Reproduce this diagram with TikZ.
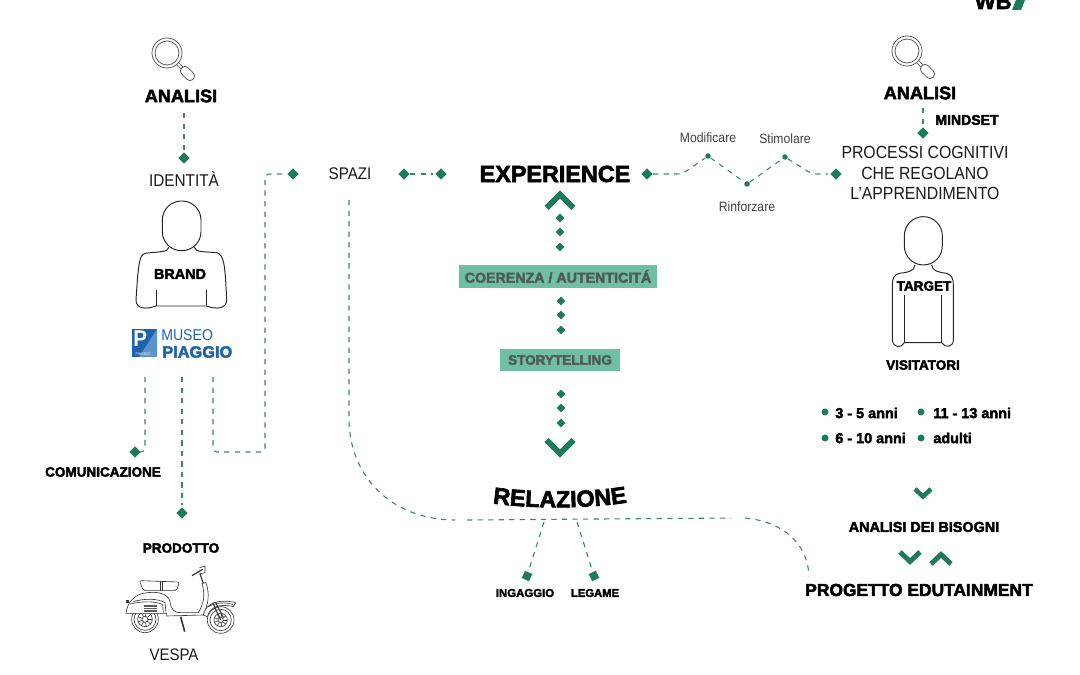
\documentclass[tikz,border=0pt]{standalone}
\usepackage{fontspec}
\setmainfont[FakeStretch=.9]{Liberation Sans}
\newfontfamily\hvfont[BoldFeatures={FakeBold=2.6}]{Liberation Sans}
\usetikzlibrary{positioning,calc,shapes.geometric,decorations.text}

\definecolor{wbgreen}{HTML}{1F7A5C}
\definecolor{linkgreen}{HTML}{3C8570}
\definecolor{boxgreen}{HTML}{6FBFA3}
\definecolor{boxtext}{HTML}{4F5A56}
\definecolor{logoblue}{HTML}{1F62AC}
\definecolor{logolight}{HTML}{5C93CC}

\tikzset{
  heavy/.style={font=\hvfont\bfseries\fontsize{#1}{#1}\selectfont,inner sep=0pt,text=black},
  plain/.style={font=\fontsize{#1}{#1}\selectfont,inner sep=0pt,text=black!90},
  tiny label/.style={font=\fontsize{7.7}{7.7}\selectfont,inner sep=0pt,text=black!75},
  gem/.style={diamond,fill=wbgreen,inner sep=0pt,minimum size=11.5*0.02cm},
  small gem/.style={diamond,fill=wbgreen,inner sep=0pt,minimum size=9*0.02cm},
  dot/.style={circle,fill=wbgreen,inner sep=0pt,minimum size=5.5*0.02cm},
  bullet/.style={circle,fill=wbgreen,inner sep=0pt,minimum size=7*0.02cm},
  band/.style={fill=boxgreen,inner sep=0pt,text=boxtext,font=\hvfont\bfseries\fontsize{#1}{#1}\selectfont},
  figure line/.style={draw=black!85,line width=0.55pt,fill=none},
  glass/.pic={
    \draw[black!65,line width=0.45pt] (0,0) circle[radius=15] (0,0) circle[radius=12];
    \begin{scope}[rotate=-45]
      \draw[black!65,line width=0.45pt] (15,-1.5) -- (21,-1.5) (15,1.5) -- (21,1.5);
      \draw[black!65,line width=0.45pt,rounded corners=0.08cm] (21,-4.5) rectangle (37,4.5);
    \end{scope}
  },
  chevron big/.pic={\draw[wbgreen,line width=3.3pt] (-13.5,7) -- (0,-6.5) -- (13.5,7);},
  chevron mid/.pic={\draw[wbgreen,line width=2.8pt] (-10,5) -- (0,-4.5) -- (10,5);},
  chevron low/.pic={\draw[wbgreen,line width=2.6pt] (-8,4) -- (0,-3.5) -- (8,4);},
}

\begin{document}
\begin{tikzpicture}[x=0.02cm,y=-0.02cm]
  \useasboundingbox (0,0) rectangle (1080,675);

  \node[heavy=12.6,anchor=base east]   (wb)      at (1012,9)   {WB};
  \fill[wbgreen] (1016,0) -- (1025,0) -- (1021,10) -- (1012,10) -- cycle;

  \pic at (167,53) {glass};
  \pic at (907,51) {glass};

  \node[heavy=10.3]      (analisiL)  at (181,96)   {ANALISI};
  \node[gem]             (gemId)     at (184,158)  {};
  \node[plain=9.7]       (identita)  at (184,179)  {IDENTITÀ};
  \node[heavy=8.2]       (brand)     at (180,274)  {BRAND};
  \node[gem]             (gemCom)    at (135,452)  {};
  \node[heavy=7.7]       (comun)     at (103,472)  {COMUNICAZIONE};
  \node[gem]             (gemProd)   at (182,513)  {};
  \node[heavy=7.7]       (prodotto)  at (181,548)  {PRODOTTO};
  \node[plain=9.5]       (vespa)     at (174,655)  {VESPA};

  \node[gem]             (gemSpL)    at (293,174)  {};
  \node[plain=9.6]       (spazi)     at (350,174)  {SPAZI};
  \node[gem]             (gemSpR)    at (404,174)  {};
  \node[gem]             (gemExpL)   at (441,174)  {};
  \node[heavy=13.3]      (experience) at (555,174) {EXPERIENCE};
  \node[gem]             (gemExpR)   at (647,174)  {};

  \node[dot]             (dotMod)    at (708,156)  {};
  \node[dot]             (dotRin)    at (747,184)  {};
  \node[dot]             (dotSti)    at (785,157)  {};
  \node[gem]             (gemProc)   at (836,174)  {};
  \node[tiny label]      (modificare) [above=0.2cm of dotMod] {Modificare};
  \node[tiny label]      (stimolare) [above=0.2cm of dotSti] {Stimolare};
  \node[tiny label]      (rinforzare) [below=0.28cm of dotRin] {Rinforzare};

  \node[heavy=10.3]      (analisiR)  at (920,93)   {ANALISI};
  \node[heavy=8]         (mindset)   at (967,120)  {MINDSET};
  \node[gem]             (gemMind)   at (923,133)  {};
  \node[font=\fontsize{10}{11.7}\selectfont,inner sep=0pt,align=center,text=black!90]
                         (processi)  at (925,173)  {PROCESSI COGNITIVI\\CHE REGOLANO\\L’APPRENDIMENTO};

  \node[heavy=7.7]       (target)    at (924,286)  {TARGET};
  \node[heavy=7.7]       (visitatori) at (923,365) {VISITATORI};
  \node[bullet]          (dotA)      at (825,412)  {};
  \node[bullet]          (dotB)      at (921,412)  {};
  \node[bullet]          (dotC)      at (825,438)  {};
  \node[bullet]          (dotD)      at (921,438)  {};
  \node[heavy=8.2,anchor=west] (etaA) at (835,413) {3 - 5 anni};
  \node[heavy=8.2,anchor=west] (etaB) at (933,413) {11 - 13 anni};
  \node[heavy=8.2,anchor=west] (etaC) at (835,438) {6 - 10 anni};
  \node[heavy=8.2,anchor=west] (etaD) at (933,438) {adulti};
  \node[heavy=8.2]       (bisogni)   at (924,527)  {ANALISI DEI BISOGNI};
  \node[heavy=9.9]       (progetto)  at (919,590)  {PROGETTO EDUTAINMENT};

  \node[band=8.1,minimum width=198*0.02cm,minimum height=23*0.02cm] (coerenza) at (558,276.5) {COERENZA / AUTENTICITÁ};
  \node[band=7.7,minimum width=120*0.02cm,minimum height=22*0.02cm] (story)    at (560,360)   {STORYTELLING};
  \foreach \y/\n in {218/a,232/b,247/c} \node[small gem] (up\n) at (560,\y) {};
  \foreach \y/\n in {301/a,315/b,330/c} \node[small gem] (mid\n) at (561,\y) {};
  \foreach \y/\n in {394/a,408/b,423/c} \node[small gem] (low\n) at (561,\y) {};

  \pic at (560,201) {chevron big};
  \pic[yscale=-1] at (560,447) {chevron big};
  \pic[yscale=-1] at (923,493) {chevron low};
  \pic[yscale=-1] at (910,557) {chevron mid};
  \pic at (941,559) {chevron mid};

  \path[decorate,decoration={text along path,text align=center,
        text={|\hvfont\bfseries\fontsize{13.3}{13.3}\selectfont|RELAZIONE}}]
        (490,503) .. controls (530,509) and (590,509) .. (630,502);

  \node[gem,rotate=20]   (gemIng)    at (527,576)  {};
  \node[gem,rotate=-20]  (gemLeg)    at (594,576)  {};
  \node[heavy=6.5]       (ingaggio)  at (525,593)  {INGAGGIO};
  \node[heavy=6.4]       (legame)    at (595,593)  {LEGAME};

  \coordinate (startId)   at (184,113);
  \coordinate (startCom)  at (145,377);
  \coordinate (bendCom)   at (145,447);
  \coordinate (startProd) at (182,377);
  \coordinate (startSp)   at (213,377);
  \coordinate (footA)     at (213,452);
  \coordinate (footB)     at (265,452);
  \coordinate (topSp)     at (265,174);
  \coordinate (zigA)      at (682,174);
  \coordinate (zigB)      at (812,174);
  \coordinate (startMind) at (923,108);
  \coordinate (startLong) at (349,200);
  \coordinate (kneeL)     at (349,420);
  \coordinate (flatL)     at (457,520);
  \coordinate (flatLb)    at (467,520);
  \coordinate (flatR)     at (733,518);
  \coordinate (flatRb)    at (745,518);
  \coordinate (endLong)   at (809,578);
  \coordinate (forkA)     at (544,522);
  \coordinate (forkB)     at (577,522);

  \tikzset{linkstyle/.style={draw=linkgreen,line width=0.62pt,dash pattern=on 3pt off 3pt,shorten >=1pt}}
  \path (startId)  edge [linkstyle] (gemId)
        (startProd) edge [linkstyle] (gemProd)
        (gemSpR)   edge [linkstyle] (gemExpL)
        (startMind) edge [linkstyle] (gemMind)
        (forkA)    edge [linkstyle] (gemIng)
        (forkB)    edge [linkstyle] (gemLeg)
        (flatLb)   edge [linkstyle] (flatR);
  \draw[linkstyle,rounded corners=0.08cm] (startCom) -- (bendCom |- gemCom) -- (gemCom);
  \draw[linkstyle,rounded corners=0.08cm] (startSp) -- (footA) -- (footB) -- (topSp) -- (gemSpL);
  \draw[linkstyle,rounded corners=0.1cm] (gemExpR) -- (zigA) -- (dotMod) -- (dotRin) -- (dotSti) -- (zigB) -- (gemProc);
  \draw[linkstyle] (startLong) -- (kneeL) .. controls (350,480) and (395,520) .. (flatL);
  \draw[linkstyle] (flatRb) .. controls (785,522) and (808,545) .. (endLong);

  \begin{scope}[shift={(100,20)},scale=1/3]
    \draw[figure line,rounded corners=0.38cm] (187,543) rectangle (303,692);
    \draw[figure line] (207,682) .. controls (205,697) and (175,695) .. (135,700) .. controls (118,705) and (115,730) .. (108,840)
      .. controls (108,865) and (135,870) .. (168,858) -- (320,858) .. controls (350,870) and (380,865) .. (380,840)
      .. controls (375,730) and (372,705) .. (350,698) .. controls (315,695) and (285,697) .. (283,682);
    \draw[figure line] (168,810) -- (168,858) (320,810) -- (320,858);
  \end{scope}

  \begin{scope}[shift={(780,210)},scale=1/3]
    \draw[figure line,rounded corners=0.38cm] (373,20) rectangle (487,165);
    \draw[figure line] (405,165) .. controls (405,183) and (380,188) .. (358,190) .. controls (342,195) and (337,205) .. (337,225) -- (337,390)
      .. controls (340,415) and (365,415) .. (373,398) -- (485,398) .. controls (495,415) and (520,412) .. (520,390) -- (520,225)
      .. controls (520,205) and (515,195) .. (500,190) .. controls (480,188) and (455,183) .. (455,165);
    \draw[figure line] (373,255) -- (373,398) (485,255) -- (485,398);
  \end{scope}

  \fill[logoblue] (132,329) rectangle (157,357);
  \fill[logolight] (157,329) -- (157,357) -- (139,357) -- cycle;
  \node[font=\bfseries\fontsize{13}{13}\selectfont,text=white,inner sep=0pt,anchor=north west] (logoP) at (133,330) {P};
  \node[font=\fontsize{2.2}{2.2}\selectfont,text=white,inner sep=0pt] (logoSmall) at (143,354.5) {PIAGGIO};
  \node[font=\fontsize{8.9}{8.9}\selectfont,text=logoblue,inner sep=0pt,anchor=west] (museo) at (161,335.5) {MUSEO};
  \node[font=\hvfont\bfseries\fontsize{9.3}{9.3}\selectfont,text=logoblue,inner sep=0pt,anchor=west] (piaggio) at (162,352) {PIAGGIO};

  \begin{scope}[shift={(120,560)},scale=1/3,black!80,line width=0.35pt]
    \draw (75,178) circle[radius=40] (75,178) circle[radius=33] (75,178) circle[radius=22] (75,178) circle[radius=9];
    \draw (302,180) circle[radius=40] (302,180) circle[radius=32] (302,180) circle[radius=20] (302,180) circle[radius=8];
    \foreach \a in {0,40,...,320} {
      \draw ($(75,178)+(\a:9)$) -- ($(75,178)+(\a:22)$);
      \draw ($(302,180)+(\a:8)$) -- ($(302,180)+(\a:20)$);
    }
    \draw[rounded corners=0.04cm,fill=white] (58,62) -- (178,66) -- (170,92) -- (70,92) -- cycle;
    \draw (120,62) -- (120,92) (128,63) -- (128,92);
    \draw[fill=white] (18,160) .. controls (22,125) and (45,105) .. (70,100) .. controls (110,92) and (145,100) .. (150,125)
      .. controls (152,148) and (165,160) .. (182,158) -- (235,158) .. controls (252,130) and (256,105) .. (246,70) -- (258,68)
      .. controls (270,105) and (265,130) .. (250,165) -- (140,168) -- (140,160) -- cycle;
    \draw (40,125) .. controls (70,115) and (115,115) .. (135,128) -- (138,158);
    \draw (30,132) .. controls (70,122) and (110,124) .. (128,134) -- (130,158);
    \fill[black!65] (72,134) rectangle (110,156);
    \draw[white,line width=0.3pt] (72,141) -- (110,141) (72,148) -- (110,148);
    \draw[fill=white] (250,165) .. controls (256,128) and (300,116) .. (347,128) -- (340,140) .. controls (300,130) and (270,140) .. (262,170) -- cycle;
    \draw (265,140) .. controls (285,128) and (315,125) .. (340,134);
    \draw[line width=0.6pt] (278,128) -- (302,180) (286,126) -- (310,172);
    \draw[line width=0.7pt] (216,47) -- (248,28);
    \draw (238,24) -- (255,18) -- (255,38) -- (236,42);
    \draw[line width=0.6pt] (240,42) -- (250,70);
    \draw[line width=0.9pt] (182,170) -- (194,215);
    \fill[black!80] (18,120) rectangle (26,130);
  \end{scope}
\end{tikzpicture}
\end{document}
